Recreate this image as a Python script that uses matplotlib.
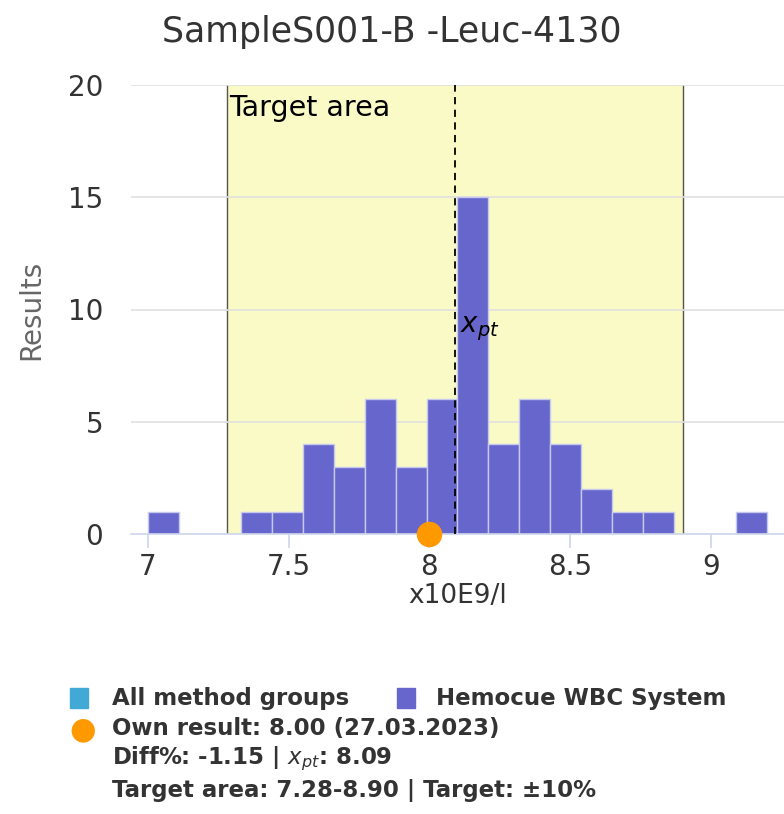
import matplotlib.pyplot as plt
from matplotlib.patches import Rectangle

# histogram data
bin_starts = [7.00, 7.11, 7.22, 7.33, 7.44, 7.55, 7.66, 7.77, 7.88, 7.99,
              8.10, 8.21, 8.32, 8.43, 8.54, 8.65, 8.76, 8.87, 8.98, 9.09]
counts = [1, 0, 0, 1, 1, 4, 3, 6, 3, 6,
          15, 4, 6, 4, 2, 1, 1, 0, 0, 1]
bin_width = 0.11

target_low = 7.28
target_high = 8.90
x_pt = 8.09
own_result = 8.00

x_ticks = [7, 7.5, 8, 8.5, 9]
y_ticks = [0, 5, 10, 15, 20]

BAR_COLOR = '#6666cc'
ALL_COLOR = '#42a8d6'
TARGET_FILL = '#fafac6'
OWN_COLOR = '#ff9900'
TEXT = '#333333'

fig = plt.figure(figsize=(7.84, 8.14), dpi=100)
ax = fig.add_axes([131 / 784, 280 / 814, 1 - 131 / 784, (534 - 85) / 814])

ax.axvspan(target_low, target_high, color=TARGET_FILL, zorder=0)
ax.axvline(target_low, color='#555555', lw=1, zorder=1)
ax.axvline(target_high, color='#555555', lw=1, zorder=1)

for y in y_ticks[1:]:
    ax.axhline(y, color='#e0e0e0', lw=1.2, zorder=1)

ax.bar(bin_starts, counts, width=bin_width, align='edge', color=BAR_COLOR,
       edgecolor='#c6c8ee', linewidth=1, zorder=2)

ax.axvline(x_pt, color='black', lw=1.3, ls=(0, (4, 3)), zorder=3)
ax.text(x_pt + 0.02, 9.0, r'$x_{pt}$', fontsize=20, color='black', zorder=4)
ax.text(target_low + 0.01, 19.6, 'Target area', fontsize=20.5, color='black',
        va='top', ha='left', zorder=4)

ax.scatter([own_result], [0], s=300, color=OWN_COLOR, zorder=5, clip_on=False)

ax.set_xlim(6.94, 9.26)
ax.set_ylim(0, 20)
ax.set_xticks(x_ticks)
ax.set_xticklabels(['7', '7.5', '8', '8.5', '9'])
ax.set_yticks(y_ticks)
for s in ['top', 'right', 'left']:
    ax.spines[s].set_visible(False)
ax.spines['bottom'].set_color('#ccd6eb')
ax.spines['bottom'].set_linewidth(1.2)
ax.tick_params(axis='x', colors='#ccd6eb', length=10, width=1.2, pad=4,
               labelsize=20, labelcolor=TEXT)
ax.tick_params(axis='y', length=0, pad=20, labelsize=20, labelcolor=TEXT)
ax.set_xlabel('x10E9/l', fontsize=19, color=TEXT, labelpad=1)
ax.set_ylabel('Results', fontsize=20, color='#666666', labelpad=16)

fig.text(0.5, 1 - 32 / 814, 'SampleS001-B -Leuc-4130', fontsize=25,
         color=TEXT, ha='center', va='center')


# legend block below the chart
def fy(py):
    return 1 - py / 814


fig.patches.append(Rectangle((70 / 784, fy(708)), 18 / 784, 20 / 814,
                             transform=fig.transFigure, color=ALL_COLOR))
fig.patches.append(Rectangle((397 / 784, fy(708)), 18 / 784, 20 / 814,
                             transform=fig.transFigure, color=BAR_COLOR))
fig.text(112 / 784, fy(698), 'All method groups', fontsize=16.5,
         fontweight='bold', color=TEXT, va='center')
fig.text(436 / 784, fy(698), 'Hemocue WBC System', fontsize=16.5,
         fontweight='bold', color=TEXT, va='center')
fig.text(83 / 784, fy(730), '\u25CF', fontsize=22, color=OWN_COLOR,
         ha='center', va='center')
fig.text(112 / 784, fy(728), 'Own result: 8.00 (27.03.2023)', fontsize=16.5,
         fontweight='bold', color=TEXT, va='center')
fig.text(112 / 784, fy(759), r'Diff%: -1.15 | $\mathit{x_{pt}}$: 8.09', fontsize=16.5,
         fontweight='bold', color=TEXT, va='center')
fig.text(112 / 784, fy(790), 'Target area: 7.28-8.90 | Target: \u00b110%', fontsize=16.5,
         fontweight='bold', color=TEXT, va='center')

fig.savefig('out.png', dpi=100)
